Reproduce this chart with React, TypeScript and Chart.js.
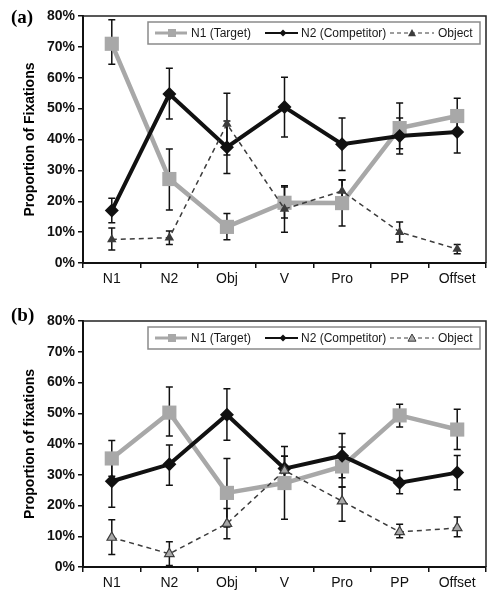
import React, { useEffect, useRef } from 'react';
import { Chart, registerables } from 'chart.js';

Chart.register(...registerables);

// ---------- data ----------
const categories = ['N1', 'N2', 'Obj', 'V', 'Pro', 'PP', 'Offset'];
const seriesNames = ['N1 (Target)', 'N2 (Competitor)', 'Object'];
const yTickValues = [0, 10, 20, 30, 40, 50, 60, 70, 80];

// panel (a)
const aTarget = [71, 27.2, 11.7, 19.5, 19.4, 43.7, 47.6];
const aTargetLo = [64.4, 17.2, 7.5, 14.6, 12, 37, 42];
const aTargetHi = [78.8, 36.9, 16, 24.6, 26.9, 51.8, 53.4];
const aComp = [17, 54.7, 37.5, 50.5, 38.5, 41.1, 42.4];
const aCompLo = [13, 46.6, 29, 40.8, 30, 35.3, 35.6];
const aCompHi = [21, 63.1, 46, 60.2, 47, 47, 49];
const aObj = [7.6, 8.2, 45, 17.5, 23.3, 10, 4.5];
const aObjLo = [4.2, 6, 35, 10, 19, 6.8, 3];
const aObjHi = [11.3, 10.4, 55, 25, 27, 13.3, 6];

// panel (b)
const bTarget = [35.3, 50.2, 24.1, 27.3, 32.7, 49.3, 44.7];
const bTargetLo = [29.5, 42.6, 13, 15.5, 26, 45.5, 38.2];
const bTargetHi = [41.1, 58.5, 35.3, 39.2, 39, 52.9, 51.3];
const bComp = [27.9, 33.4, 49.5, 32, 36.2, 27.4, 30.7];
const bCompLo = [19.4, 26.6, 41.2, 28, 29, 23.8, 25.1];
const bCompHi = [36, 39.7, 58, 36, 43.4, 31.4, 36.3];
const bObj = [9.6, 4.3, 14.1, 31.4, 21.4, 11.4, 12.7];
const bObjLo = [4.1, 0.5, 9.2, 27, 14.9, 9.5, 9.8];
const bObjHi = [15.4, 8.2, 19, 36, 26, 13.9, 16.3];

const FONT = "'Liberation Sans', Arial, Helvetica, sans-serif";
const TARGET_COLOR = '#a8a8a8';
const COMP_COLOR = '#111111';
const OBJ_COLOR = '#3c3c3c';

type PanelProps = {
  tag: string;
  yTitle: string;
  target: number[]; targetLo: number[]; targetHi: number[];
  comp: number[]; compLo: number[]; compHi: number[];
  obj: number[]; objLo: number[]; objHi: number[];
  objFill: string;
  top: number;
  height: number;
  plotTop: number;
  plotBottom: number;
  tagY: number;
};

function drawMarker(ctx: CanvasRenderingContext2D, style: string, x: number, y: number, r: number, fill: string, stroke: string, lw: number) {
  ctx.save();
  ctx.beginPath();
  if (style === 'rect') {
    ctx.rect(x - r, y - r, 2 * r, 2 * r);
  } else if (style === 'diamond') {
    ctx.moveTo(x - r, y); ctx.lineTo(x, y - r); ctx.lineTo(x + r, y); ctx.lineTo(x, y + r); ctx.closePath();
  } else {
    ctx.moveTo(x, y - r); ctx.lineTo(x + r, y + r * 0.8); ctx.lineTo(x - r, y + r * 0.8); ctx.closePath();
  }
  ctx.fillStyle = fill;
  ctx.fill();
  if (lw > 0) { ctx.strokeStyle = stroke; ctx.lineWidth = lw; ctx.stroke(); }
  ctx.restore();
}

function Panel(p: PanelProps) {
  const ref = useRef<HTMLCanvasElement | null>(null);
  useEffect(() => {
    if (!ref.current) return;
    const errs = [
      [p.targetLo, p.targetHi],
      [p.compLo, p.compHi],
      [p.objLo, p.objHi],
    ];
    const decor = {
      id: 'decor',
      beforeDatasetsDraw(chart: any) {
        const ctx = chart.ctx as CanvasRenderingContext2D;
        const ys = chart.scales.y;
        ctx.save();
        ctx.strokeStyle = '#111';
        ctx.lineWidth = 1.5;
        errs.forEach((pair, i) => {
          const meta = chart.getDatasetMeta(i);
          meta.data.forEach((pt: any, j: number) => {
            const x = pt.x;
            const y1 = ys.getPixelForValue(pair[0][j]);
            const y2 = ys.getPixelForValue(pair[1][j]);
            ctx.beginPath();
            ctx.moveTo(x, y1); ctx.lineTo(x, y2);
            ctx.moveTo(x - 3.5, y1); ctx.lineTo(x + 3.5, y1);
            ctx.moveTo(x - 3.5, y2); ctx.lineTo(x + 3.5, y2);
            ctx.stroke();
          });
        });
        ctx.restore();
      },
      afterDraw(chart: any) {
        const ctx = chart.ctx as CanvasRenderingContext2D;
        const a = chart.chartArea;
        ctx.save();
        // top and right frame
        ctx.strokeStyle = '#222';
        ctx.lineWidth = 1.5;
        ctx.beginPath();
        ctx.moveTo(a.left, a.top); ctx.lineTo(a.right, a.top); ctx.lineTo(a.right, a.bottom);
        ctx.stroke();
        // panel tag
        ctx.fillStyle = '#000';
        ctx.font = "bold 19px 'Liberation Serif', 'Times New Roman', serif";
        ctx.textBaseline = 'middle';
        ctx.textAlign = 'left';
        ctx.fillText(p.tag, 11, p.tagY);
        // y title
        ctx.save();
        ctx.translate(30, (a.top + a.bottom) / 2);
        ctx.rotate(-Math.PI / 2);
        ctx.font = `bold 14px ${FONT}`;
        ctx.textAlign = 'center';
        ctx.textBaseline = 'middle';
        ctx.fillText(p.yTitle, 0, 0);
        ctx.restore();
        // legend
        const bx = 148, bw = 332, by = a.top + 6, bh = 22;
        const cy = by + bh / 2;
        ctx.fillStyle = '#fff';
        ctx.fillRect(bx, by, bw, bh);
        ctx.strokeStyle = '#8a8a8a';
        ctx.lineWidth = 1.5;
        ctx.strokeRect(bx, by, bw, bh);
        ctx.font = `12px ${FONT}`;
        ctx.textAlign = 'left';
        ctx.textBaseline = 'middle';
        // N1
        ctx.strokeStyle = TARGET_COLOR; ctx.lineWidth = 3; ctx.setLineDash([]);
        ctx.beginPath(); ctx.moveTo(155, cy); ctx.lineTo(187, cy); ctx.stroke();
        drawMarker(ctx, 'rect', 172, cy, 4, TARGET_COLOR, TARGET_COLOR, 0);
        ctx.fillStyle = '#1a1a1a';
        ctx.fillText(seriesNames[0], 191, cy + 1);
        // N2
        ctx.strokeStyle = COMP_COLOR; ctx.lineWidth = 2;
        ctx.beginPath(); ctx.moveTo(265, cy); ctx.lineTo(298, cy); ctx.stroke();
        drawMarker(ctx, 'diamond', 283, cy, 3.5, COMP_COLOR, COMP_COLOR, 0);
        ctx.fillStyle = '#1a1a1a';
        ctx.fillText(seriesNames[1], 301, cy + 1);
        // Object
        ctx.strokeStyle = OBJ_COLOR; ctx.lineWidth = 1.2; ctx.setLineDash([4, 3]);
        ctx.beginPath(); ctx.moveTo(390, cy); ctx.lineTo(434, cy); ctx.stroke();
        ctx.setLineDash([]);
        drawMarker(ctx, 'tri', 412, cy, 4, p.objFill, OBJ_COLOR, p.objFill === OBJ_COLOR ? 0 : 1);
        ctx.fillStyle = '#1a1a1a';
        ctx.fillText(seriesNames[2], 438, cy + 1);
        ctx.restore();
      },
    };

    const chart = new Chart(ref.current, {
      type: 'line',
      data: {
        labels: categories,
        datasets: [
          {
            label: seriesNames[0],
            data: p.target,
            borderColor: TARGET_COLOR,
            backgroundColor: TARGET_COLOR,
            borderWidth: 4.5,
            pointStyle: 'rect',
            pointRadius: 10,
            pointBorderWidth: 0,
            pointBackgroundColor: TARGET_COLOR,
            tension: 0,
            order: 3,
          },
          {
            label: seriesNames[1],
            data: p.comp,
            borderColor: COMP_COLOR,
            backgroundColor: COMP_COLOR,
            borderWidth: 4,
            pointStyle: 'rectRot',
            pointRadius: 7,
            pointBorderWidth: 0,
            pointBackgroundColor: COMP_COLOR,
            tension: 0,
            order: 2,
          },
          {
            label: seriesNames[2],
            data: p.obj,
            borderColor: OBJ_COLOR,
            backgroundColor: p.objFill,
            borderWidth: 1.5,
            borderDash: [5, 4],
            pointStyle: 'triangle',
            pointRadius: 5.5,
            pointBorderWidth: p.objFill === OBJ_COLOR ? 0 : 1.2,
            pointBorderColor: OBJ_COLOR,
            pointBackgroundColor: p.objFill,
            tension: 0,
            order: 1,
          },
        ],
      },
      options: {
        responsive: false,
        animation: false,
        events: [],
        layout: { padding: { left: 0, right: 11, top: p.plotTop, bottom: 0 } },
        plugins: {
          legend: { display: false },
          tooltip: { enabled: false },
          title: { display: false },
        },
        scales: {
          x: {
            offset: true,
            grid: {
              display: true,
              offset: true,
              drawOnChartArea: false,
              drawTicks: true,
              tickLength: 5,
              color: '#111',
              lineWidth: 1.5,
            },
            border: { display: true, color: '#111', width: 2 },
            ticks: {
              color: '#111',
              font: { family: FONT, size: 14 },
              padding: 3,
              maxRotation: 0,
              autoSkip: false,
            },
            afterFit: (s: any) => { s.height = p.height - p.plotBottom; },
          },
          y: {
            min: yTickValues[0],
            max: yTickValues[yTickValues.length - 1],
            afterBuildTicks: (s: any) => { s.ticks = yTickValues.map((v) => ({ value: v })); },
            grid: {
              display: true,
              drawOnChartArea: false,
              drawTicks: true,
              tickLength: 5,
              color: '#111',
              lineWidth: 1.5,
            },
            border: { display: true, color: '#111', width: 2 },
            ticks: {
              color: '#111',
              font: { family: FONT, size: 14, weight: 'bold' },
              padding: 3,
              callback: (v: any) => `${v}%`,
            },
            afterFit: (s: any) => { s.width = 83; },
          },
        },
      },
      plugins: [decor],
    } as any);
    return () => chart.destroy();
  }, []);
  return (
    <canvas
      ref={ref}
      width={497}
      height={p.height}
      style={{ position: 'absolute', left: 0, top: p.top, width: 497, height: p.height, display: 'block' }}
    />
  );
}

export default function App() {
  return (
    <div style={{ position: 'fixed', left: 0, top: 0, width: 497, height: 600, background: '#fff', overflow: 'hidden' }}>
      <Panel
        tag="(a)" yTitle="Proportion of Fixations"
        target={aTarget} targetLo={aTargetLo} targetHi={aTargetHi}
        comp={aComp} compLo={aCompLo} compHi={aCompHi}
        obj={aObj} objLo={aObjLo} objHi={aObjHi}
        objFill={OBJ_COLOR}
        top={0} height={300} plotTop={16} plotBottom={263} tagY={18}
      />
      <Panel
        tag="(b)" yTitle="Proportion of fixations"
        target={bTarget} targetLo={bTargetLo} targetHi={bTargetHi}
        comp={bComp} compLo={bCompLo} compHi={bCompHi}
        obj={bObj} objLo={bObjLo} objHi={bObjHi}
        objFill="#a8a8a8"
        top={300} height={300} plotTop={21} plotBottom={267} tagY={16}
      />
    </div>
  );
}
